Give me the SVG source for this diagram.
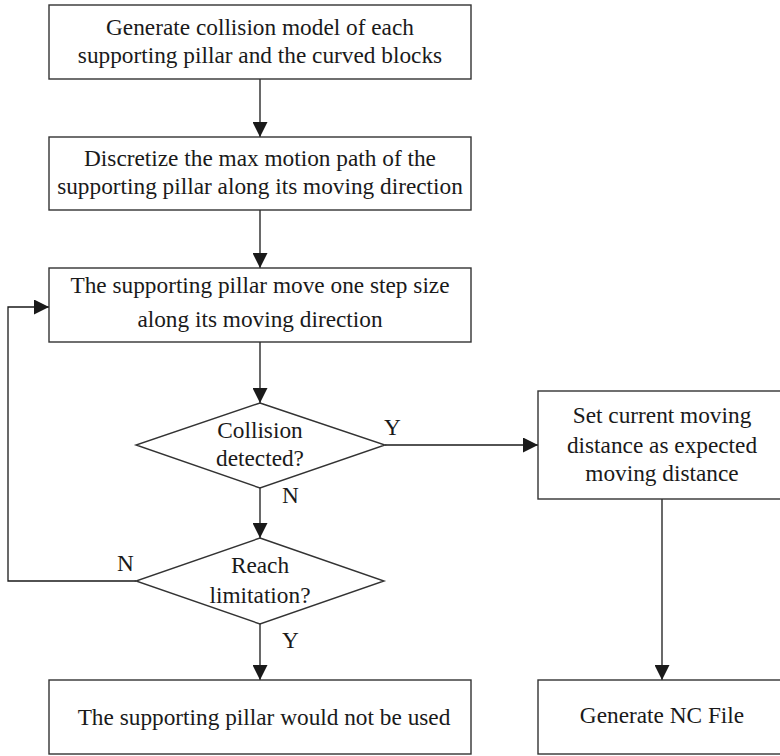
<svg xmlns="http://www.w3.org/2000/svg" width="780" height="756" viewBox="0 0 780 756">
<defs>
<marker id="arr" markerUnits="userSpaceOnUse" markerWidth="15" markerHeight="15" refX="15" refY="7.5" orient="auto">
<path d="M0,0 L15,7.5 L0,15 z" fill="#1a1a1a"/>
</marker>
<style>
.box{fill:#fff;stroke:#333;stroke-width:1.4}
text{font-family:'Liberation Serif','DejaVu Serif',serif;font-size:23.3px;fill:#1a1a1a}
.t{text-anchor:middle}
.ca{fill:none;stroke:#1a1a1a;stroke-width:1.3;marker-end:url(#arr)}
</style>
</defs>
<rect width="780" height="756" fill="#fff"/>
<g id="connectors">
<path class="ca" d="M260,79 V137"/>
<path class="ca" d="M260,210 V268"/>
<path class="ca" d="M260,342 V403"/>
<path class="ca" d="M385,445 H538"/>
<path class="ca" d="M260,488 V538"/>
<path class="ca" d="M136,581 H8 V307 H49"/>
<path class="ca" d="M260,624 V680"/>
<path class="ca" d="M662,499 V680"/>
<text x="384" y="435">Y</text>
<text x="282" y="503">N</text>
<text x="117" y="571">N</text>
<text x="282" y="648">Y</text>
</g>
<g id="n1">
<rect class="box" x="49" y="5" width="422" height="74"/>
<text class="t" x="260" y="35">Generate collision model of each</text>
<text class="t" x="260" y="63">supporting pillar and the curved blocks</text>
</g>
<g id="n2">
<rect class="box" x="49" y="137" width="422" height="73"/>
<text class="t" x="260" y="166">Discretize the max motion path of the</text>
<text class="t" x="260" y="194">supporting pillar along its moving direction</text>
</g>
<g id="n3">
<rect class="box" x="49" y="268" width="422" height="74"/>
<text class="t" x="260" y="293">The supporting pillar move one step size</text>
<text class="t" x="260" y="327">along its moving direction</text>
</g>
<g id="n4">
<polygon class="box" points="260,403 385,445 260,488 136,445"/>
<text class="t" x="260" y="438">Collision</text>
<text class="t" x="260" y="466">detected?</text>
</g>
<g id="n5">
<rect class="box" x="538" y="391" width="250" height="108"/>
<text class="t" x="662" y="423">Set current moving</text>
<text class="t" x="662" y="453">distance as expected</text>
<text class="t" x="662" y="481">moving distance</text>
</g>
<g id="n6">
<polygon class="box" points="260,538 384,581 260,624 136,581"/>
<text class="t" x="260" y="573">Reach</text>
<text class="t" x="260" y="603">limitation?</text>
</g>
<g id="n7">
<rect class="box" x="49" y="680" width="422" height="74"/>
<text class="t" x="264" y="725">The supporting pillar would not be used</text>
</g>
<g id="n8">
<rect class="box" x="538" y="680" width="250" height="74"/>
<text class="t" x="662" y="723">Generate NC File</text>
</g>
</svg>
